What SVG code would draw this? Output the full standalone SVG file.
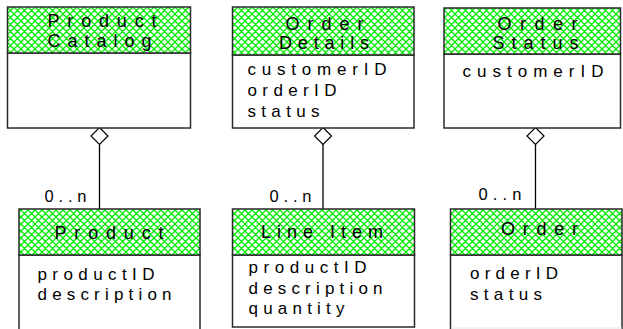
<svg xmlns="http://www.w3.org/2000/svg" width="623" height="329" viewBox="0 0 623 329">
  <defs>
    <!-- green diagonal cross-hatch used in class headers -->
    <pattern id="hatch" patternUnits="userSpaceOnUse" width="7" height="7">
      <rect width="7" height="7" fill="#ffffff"/>
      <path d="M-7,0 L0,-7 M-7,7 L7,-7 M-7,14 L14,-7 M0,14 L14,0 M-7,-7 L14,14 M-7,0 L7,14 M0,-7 L14,7" stroke="#00ec00" stroke-width="1.3" fill="none"/>
    </pattern>
  </defs>
  <style>
    .box { fill: #ffffff; stroke: #2a2a2a; stroke-width: 1.5; }
    .head { fill: url(#hatch); stroke: #2a2a2a; stroke-width: 1.5; }
    .title { font-family: "Liberation Sans", Arial, sans-serif; font-size: 18px; fill: #000; }
    .attr { font-family: "Liberation Sans", Arial, sans-serif; font-size: 17px; fill: #000; }
    .mult { font-family: "Liberation Sans", Arial, sans-serif; font-size: 16.5px; fill: #000; }
    .link { stroke: #000; stroke-width: 1.3; fill: none; }
    .agg { fill: #ffffff; stroke: #000; stroke-width: 1.2; }
  </style>
  <rect width="623" height="329" fill="#ffffff"/>

  <!-- aggregation connectors -->
  <g id="connectors">
    <line class="link" x1="99.5" y1="144" x2="99.5" y2="209"/>
    <polygon class="agg" points="99.5,127.5 108,136 99.5,144.5 91,136"/>
    <text class="mult" x="44.5" y="202" textLength="42" lengthAdjust="spacing">0..n</text>

    <line class="link" x1="323" y1="144" x2="323" y2="209"/>
    <polygon class="agg" points="323,127.5 331.5,136 323,144.5 314.5,136"/>
    <text class="mult" x="269.5" y="202" textLength="42" lengthAdjust="spacing">0..n</text>

    <line class="link" x1="535.5" y1="144" x2="535.5" y2="209"/>
    <polygon class="agg" points="535.5,127.5 544,136 535.5,144.5 527,136"/>
    <text class="mult" x="478.5" y="200" textLength="43" lengthAdjust="spacing">0..n</text>
  </g>

  <g id="product-catalog">
    <rect class="box" x="7.5" y="53" width="183" height="75"/>
    <rect class="head" x="7.5" y="7" width="183" height="46"/>
    <text class="title" x="47.5" y="27" textLength="109" lengthAdjust="spacing">Product</text>
    <text class="title" x="47.5" y="46.5" textLength="104" lengthAdjust="spacing">Catalog</text>
  </g>

  <g id="order-details">
    <rect class="box" x="232.5" y="55" width="181.5" height="73"/>
    <rect class="head" x="232.5" y="7" width="181.5" height="48"/>
    <text class="title" x="285.5" y="29.5" textLength="78" lengthAdjust="spacing">Order</text>
    <text class="title" x="279" y="49" textLength="90" lengthAdjust="spacing">Details</text>
    <text class="attr" x="247.5" y="75" textLength="139" lengthAdjust="spacing">customerID</text>
    <text class="attr" x="247.5" y="96" textLength="89" lengthAdjust="spacing">orderID</text>
    <text class="attr" x="247.5" y="117" textLength="72" lengthAdjust="spacing">status</text>
  </g>

  <g id="order-status">
    <rect class="box" x="444" y="54" width="176.5" height="74"/>
    <rect class="head" x="444" y="8" width="176.5" height="46"/>
    <text class="title" x="497.5" y="29.5" textLength="80" lengthAdjust="spacing">Order</text>
    <text class="title" x="492.5" y="49" textLength="86" lengthAdjust="spacing">Status</text>
    <text class="attr" x="462.5" y="77" textLength="141" lengthAdjust="spacing">customerID</text>
  </g>

  <g id="product">
    <rect class="box" x="19" y="255" width="181" height="90"/>
    <rect class="head" x="19" y="209" width="181" height="46"/>
    <text class="title" x="54.5" y="239" textLength="109" lengthAdjust="spacing">Product</text>
    <text class="attr" x="37.5" y="280" textLength="117" lengthAdjust="spacing">productID</text>
    <text class="attr" x="37.5" y="300" textLength="134" lengthAdjust="spacing">description</text>
  </g>

  <g id="line-item">
    <rect class="box" x="232.5" y="255" width="182" height="72"/>
    <rect class="head" x="232.5" y="209" width="182" height="46"/>
    <text class="title" x="261" y="238" textLength="122" lengthAdjust="spacing">Line Item</text>
    <text class="attr" x="248.5" y="273" textLength="118" lengthAdjust="spacing">productID</text>
    <text class="attr" x="248.5" y="294" textLength="134" lengthAdjust="spacing">description</text>
    <text class="attr" x="248.5" y="314" textLength="96" lengthAdjust="spacing">quantity</text>
  </g>

  <g id="order">
    <rect class="box" x="450.5" y="255" width="171.5" height="90"/>
    <rect class="head" x="450.5" y="209" width="171.5" height="46"/>
    <text class="title" x="501" y="235" textLength="77" lengthAdjust="spacing">Order</text>
    <text class="attr" x="470" y="279" textLength="88" lengthAdjust="spacing">orderID</text>
    <text class="attr" x="470" y="300" textLength="72" lengthAdjust="spacing">status</text>
    <line x1="451" y1="328" x2="622" y2="328" stroke="#e4e4e4" stroke-width="1"/>
  </g>
</svg>
